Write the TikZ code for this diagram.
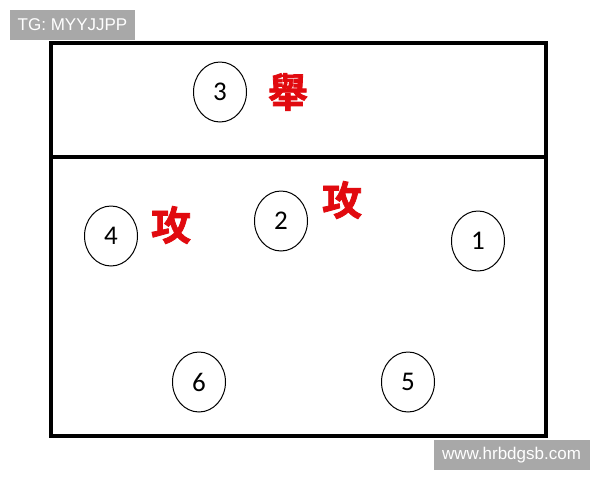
\documentclass[tikz,border=0pt]{standalone}
\usepackage{fontspec}
\setmainfont{Carlito}
\newfontfamily\tagfont{Liberation Sans}
\newfontfamily\cjkfont{Noto Sans CJK TC}[BoldFont=* Bold, BoldFeatures={FakeBold=2}]
\usetikzlibrary{shapes.geometric}
\definecolor{callred}{RGB}{225,10,15}
\definecolor{taggray}{RGB}{168,168,168}
\tikzset{
    player/.style={draw, ellipse, line width=1pt, minimum width=53pt, minimum height=60pt, inner sep=0pt, font=\fontsize{27}{27}\selectfont},
    call/.style={text=callred, font=\cjkfont\bfseries\fontsize{40}{40}\selectfont, inner sep=0pt},
    tag/.style={fill=taggray, text=white, font=\tagfont\fontsize{17}{17}\selectfont, inner sep=0pt}
}
\begin{document}
\begin{tikzpicture}[x=1pt, y=-1pt]
    \useasboundingbox[fill=white] (0,0) rectangle (600,480);

    % court
    \draw[line width=4pt] (51,43) rectangle (546,436);
    \draw[line width=4pt] (51,157) -- (546,157);

    % players
    \node[player] (p3) at (220,92) {3};
    \node[player] (p4) at (111,236) {4};
    \node[player] (p2) at (281,221) {2};
    \node[player] (p1) at (478,241) {1};
    \node[player] (p6) at (199,382) {6};
    \node[player] (p5) at (408,382) {5};

    % calls
    \node[call] (set) at (288,92) {舉};
    \node[call] (hitl) at (171,225) {攻};
    \node[call] (hitm) at (342,200) {攻};

    % tags
    \node[tag, minimum width=125pt, minimum height=30pt] (tg) at (72.5,25) {TG: MYYJJPP};
    \node[tag, minimum width=156pt, minimum height=30pt] (web) at (511.5,455) {www.hrbdgsb.com};
\end{tikzpicture}
\end{document}
